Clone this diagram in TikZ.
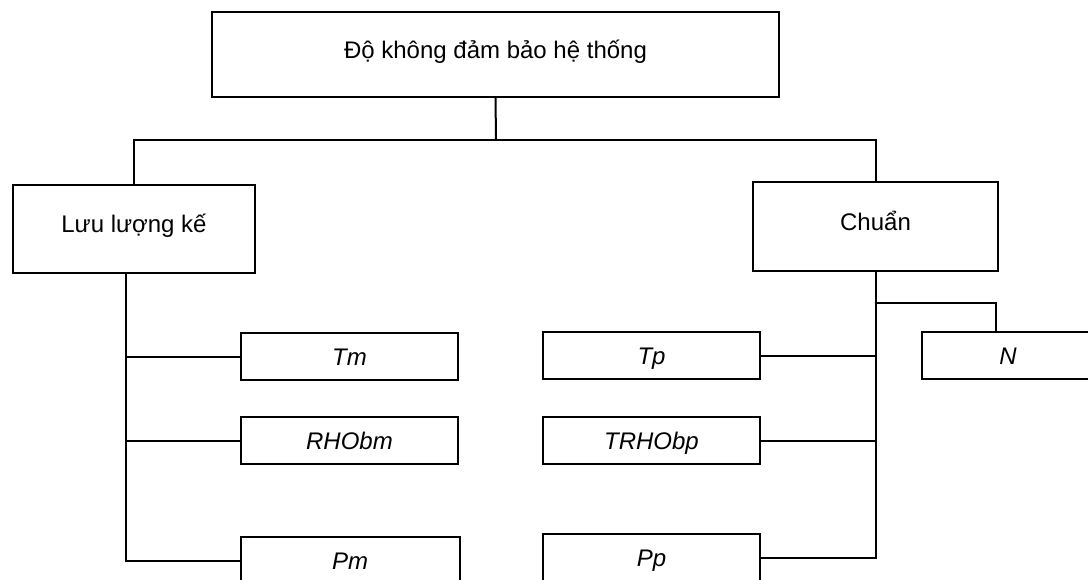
\documentclass[tikz,border=0pt]{standalone}
\usepackage{fontspec}
\setmainfont{Liberation Sans}
\begin{document}
\begin{tikzpicture}[x=1pt,y=-1pt,
  every node/.style={inner sep=0pt,outer sep=0pt},
  bigbox/.style={draw,line width=2pt,text height=18pt,text depth=10.8pt,
    font=\fontsize{24}{28}\selectfont},
  smallbox/.style={draw,line width=2pt,minimum width=217pt,minimum height=47pt,
    text height=18pt,text depth=0.8pt,font=\fontsize{24}{28}\selectfont\itshape},
  conn/.style={line width=2pt,line cap=round}]
\fill[white] (0,0) rectangle (1088,579);
\useasboundingbox (0,0) rectangle (1088,579);
% nodes
\node[bigbox,minimum width=567pt,minimum height=85pt] (top) at (495.5,54.5) {Độ không đảm bảo hệ thống};
\node[bigbox,minimum width=242pt,minimum height=88pt] (llk) at (134,229) {Lưu lượng kế};
\node[bigbox,minimum width=245pt,minimum height=89pt] (chuan) at (875.5,226.5) {Chuẩn};
\node[smallbox] (tm) at (349.5,356.5) {Tm};
\node[smallbox] (rhobm) at (349.5,440.5) {RHObm};
\node[smallbox,minimum width=219pt] (pm) at (350,560.5) {Pm};
\node[smallbox] (tp) at (651.5,355.5) {Tp};
\node[smallbox] (trhobp) at (651.5,440.5) {TRHObp};
\node[smallbox] (pp) at (651.5,557.5) {Pp};
\node[smallbox,minimum width=172pt] (n) at (1008,355.5) {N};
% connectors
\coordinate (j) at (496,140);
\draw[conn] (top.south) -- (j);
\draw[conn] (llk.north) |- (j) -| (chuan.north);
\path (llk.south west) ++(113,0) coordinate (ls);
\draw[conn] (ls) |- (pm.west);
\draw[conn] (ls |- tm.west) -- (tm.west);
\draw[conn] (ls |- rhobm.west) -- (rhobm.west);
\draw[conn] (chuan.south) |- (pp.east);
\draw[conn] (chuan.south |- tp.east) -- (tp.east);
\draw[conn] (chuan.south |- trhobp.east) -- (trhobp.east);
\path (chuan.south) ++(0,32) coordinate (nj);
\path (n.north west) ++(74,0) coordinate (nt);
\draw[conn] (nj) -| (nt);
\end{tikzpicture}
\end{document}
